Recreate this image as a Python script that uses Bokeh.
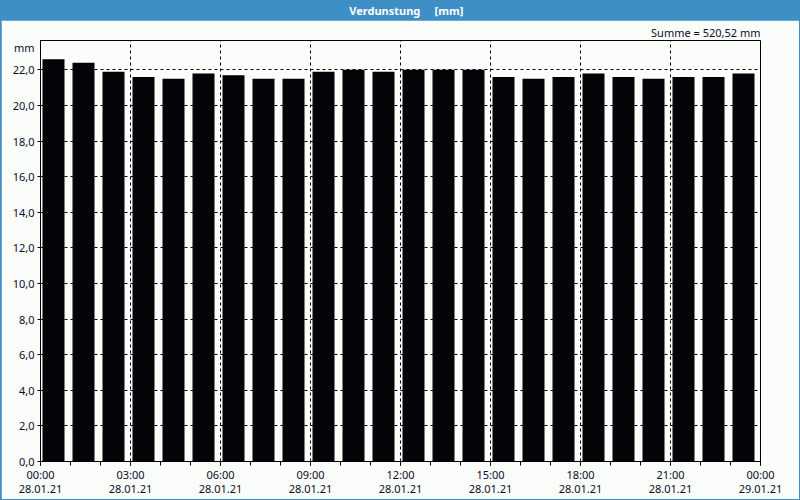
from bokeh.plotting import figure
from bokeh.models import FixedTicker, Title
from bokeh.layouts import column
from bokeh.core.properties import value
from bokeh.embed import file_html
from bokeh.resources import INLINE

hours = list(range(24))
values = [22.6, 22.4, 21.9, 21.6, 21.5, 21.8, 21.7, 21.5, 21.5, 21.9, 22.0, 21.9,
          22.0, 22.0, 22.0, 21.6, 21.5, 21.6, 21.8, 21.6, 21.5, 21.6, 21.6, 21.8]
y_ticks = [0, 2, 4, 6, 8, 10, 12, 14, 16, 18, 20, 22]
y_labels = ["0,0", "2,0", "4,0", "6,0", "8,0", "10,0", "12,0", "14,0", "16,0", "18,0", "20,0", "22,0"]
x_ticks = [0, 3, 6, 9, 12, 15, 18, 21, 24]
x_times = ["00:00", "03:00", "06:00", "09:00", "12:00", "15:00", "18:00", "21:00", "00:00"]
x_dates = ["28.01.21"] * 8 + ["29.01.21"]
title_text = "Verdunstung\u00a0\u00a0\u00a0\u00a0\u00a0[mm]"
sum_text = "Summe = 520,52 mm"
unit_text = "mm"
unit_pos = 23.26

BLUE = "#3d8fc6"
BG = "#fbfdfb"
TXT = "#0c0c28"
FONT = "Noto Sans"

# title strip
t = figure(width=800, height=20, output_backend="svg", toolbar_location=None,
           x_range=(0, 1), y_range=(0, 1), min_border=0,
           background_fill_color=BLUE, border_fill_color=BLUE)
t.axis.visible = False
t.grid.visible = False
t.outline_line_color = None
t.text(x=[0.508], y=[0.5], text=[title_text], text_align="center", text_baseline="middle",
       text_font=value(FONT), text_font_style="bold", text_font_size="11px", text_color="white")

p = figure(width=798, height=479, output_backend="svg", toolbar_location=None,
           x_range=(0, 24), y_range=(0, 23.65),
           min_border_left=39, min_border_right=39, min_border_top=20, min_border_bottom=38,
           background_fill_color=BG, border_fill_color=BG, margin=(0, 1, 1, 1))
p.outline_line_color = "black"
p.outline_line_width = 1

centers = [h + 13 / 30 for h in hours]
p.vbar(x=centers, top=values, width=22 / 30, bottom=0, fill_color="#040308", line_color=None)

xa = p.xaxis[0]
xa.ticker = FixedTicker(ticks=x_ticks, minor_ticks=hours + [24])
xa.major_label_overrides = {t_: f"{a}\n{b}" for t_, a, b in zip(x_ticks, x_times, x_dates)}
xa.major_tick_in = 0
xa.major_tick_out = 4
xa.minor_tick_in = 0
xa.minor_tick_out = 4
xa.major_label_standoff = 1
xa.major_label_text_line_height = 0.95

ya = p.yaxis[0]
ya.ticker = FixedTicker(ticks=y_ticks + [unit_pos], minor_ticks=y_ticks)
labels = {t_: l for t_, l in zip(y_ticks, y_labels)}
labels[unit_pos] = unit_text
ya.major_label_overrides = labels
ya.major_tick_in = 0
ya.major_tick_out = 0
ya.minor_tick_in = 0
ya.minor_tick_out = 3
ya.major_label_standoff = 3

for ax in (xa, ya):
    ax.axis_line_color = "black"
    ax.major_tick_line_color = "black"
    ax.minor_tick_line_color = "black"
    ax.major_label_text_font = FONT
    ax.major_label_text_font_size = "11px"
    ax.major_label_text_color = TXT

p.xgrid.ticker = FixedTicker(ticks=x_ticks)
p.ygrid.ticker = FixedTicker(ticks=y_ticks)
for g in (p.xgrid, p.ygrid):
    g.grid_line_color = "black"
    g.grid_line_dash = "3 3"
    g.grid_line_width = 1
    g.grid_line_alpha = 1.0

p.add_layout(Title(text=sum_text, align="right", text_font=FONT, text_font_size="11px",
                   text_font_style="normal", text_color=TXT, standoff=2), "above")

layout = column(t, p, width=800, height=500, spacing=0,
                styles={"background-color": BLUE})
open("out.html", "w").write(file_html(layout, INLINE))
